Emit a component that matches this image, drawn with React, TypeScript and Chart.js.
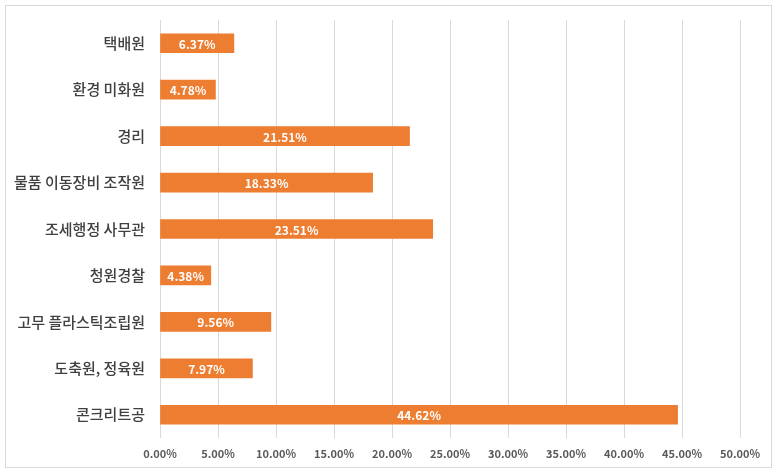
import { useEffect, useRef } from 'react'
import Chart from 'chart.js/auto'

const categories = [
  '택배원',
  '환경 미화원',
  '경리',
  '물품 이동장비 조작원',
  '조세행정 사무관',
  '청원경찰',
  '고무 플라스틱조립원',
  '도축원, 정육원',
  '콘크리트공',
]
const shares = [6.37, 4.78, 21.51, 18.33, 23.51, 4.38, 9.56, 7.97, 44.62]
const axisMax = 50
const axisStep = 5

const FONT = "'Noto Sans CJK KR', 'Noto Sans', sans-serif"

export default function App() {
  const canvasRef = useRef<HTMLCanvasElement>(null)
  const chartRef = useRef<Chart | null>(null)

  useEffect(() => {
    document.body.style.margin = '0'
    if (!canvasRef.current) return
    chartRef.current?.destroy()

    chartRef.current = new Chart(canvasRef.current, {
      type: 'bar',
      data: {
        labels: categories,
        datasets: [
          {
            label: 'share',
            data: shares,
            backgroundColor: '#ED7D31',
            borderWidth: 0,
            barThickness: 19,
          },
        ],
      },
      options: {
        indexAxis: 'y',
        animation: false,
        responsive: false,
        maintainAspectRatio: false,
        layout: { padding: { left: 0, top: 20, right: 38, bottom: 0 } },
        plugins: {
          legend: { display: false },
          tooltip: { enabled: false },
        },
        scales: {
          x: {
            min: 0,
            max: axisMax,
            ticks: {
              stepSize: axisStep,
              padding: 9,
              color: '#595959',
              font: { family: FONT, size: 11, weight: 'bold' },
              callback: (v) => `${Number(v).toFixed(2)}%`,
            },
            grid: { color: '#d9d9d9', drawTicks: false },
            border: { display: false },
            afterFit: (scale: any) => {
              scale.height = 36
              scale.paddingLeft = 0
              scale.paddingRight = 0
            },
          },
          y: {
            ticks: {
              padding: 15,
              color: '#404040',
              font: { family: FONT, size: 15, weight: 500 },
            },
            grid: { display: false, drawTicks: false },
            border: { display: false },
            afterFit: (scale: any) => {
              scale.width = 160
              scale.paddingTop = 0
              scale.paddingBottom = 0
            },
          },
        },
      },
      plugins: [
        {
          id: 'barValues',
          afterDatasetsDraw(chart) {
            const { ctx } = chart
            const meta = chart.getDatasetMeta(0)
            ctx.save()
            ctx.fillStyle = '#ffffff'
            ctx.font = `bold 12px ${FONT}`
            ctx.textAlign = 'center'
            ctx.textBaseline = 'middle'
            meta.data.forEach((bar, i) => {
              const { x, y, base } = bar.getProps(['x', 'y', 'base'], true) as any
              ctx.fillText(`${shares[i].toFixed(2)}%`, (x + base) / 2, y + 1)
            })
            ctx.restore()
          },
        },
      ],
    })

    return () => {
      chartRef.current?.destroy()
      chartRef.current = null
    }
  }, [])

  return (
    <div style={{ position: 'relative', width: 778, height: 474, background: '#fff' }}>
      <div
        style={{
          position: 'absolute',
          left: 5,
          top: 5,
          width: 767,
          height: 463,
          border: '1px solid #d9d9d9',
          boxSizing: 'border-box',
        }}
      />
      <canvas ref={canvasRef} width={778} height={474} style={{ position: 'absolute', left: 0, top: 0 }} />
    </div>
  )
}
